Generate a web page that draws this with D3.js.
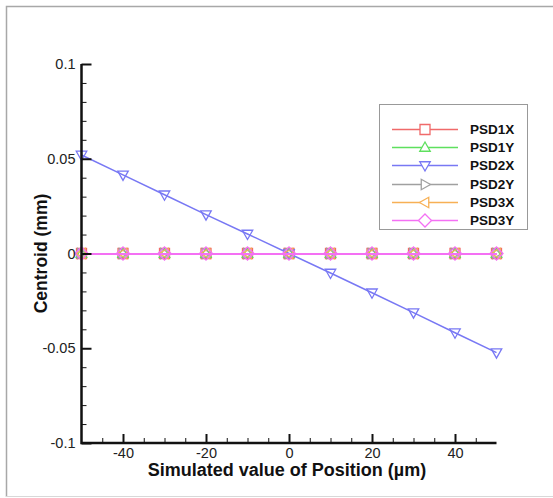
<!DOCTYPE html>
<html>
<head>
<meta charset="utf-8">
<script src="https://cdn.jsdelivr.net/npm/d3@7"></script>
<style>
  html, body { margin: 0; padding: 0; background: #fff; }
  svg { display: block; font-family: "Liberation Sans", Arial, sans-serif; }
</style>
</head>
<body>
<svg id="chart" width="553" height="498"></svg>
<script>
// Simulated position (µm) and measured centroids (mm) for each PSD channel
const positions = [-50, -40, -30, -20, -10, 0, 10, 20, 30, 40, 50];
const psd1x = [0, 0, 0, 0, 0, 0, 0, 0, 0, 0, 0];
const psd1y = [0, 0, 0, 0, 0, 0, 0, 0, 0, 0, 0];
const psd2x = [0.0520, 0.0415, 0.0310, 0.0205, 0.0103, 0, -0.0103, -0.0207, -0.0312, -0.0418, -0.0523];
const psd2y = [0, 0, 0, 0, 0, 0, 0, 0, 0, 0, 0];
const psd3x = [0, 0, 0, 0, 0, 0, 0, 0, 0, 0, 0];
const psd3y = [0, 0, 0, 0, 0, 0, 0, 0, 0, 0, 0];

const seriesNames = ["PSD1X", "PSD1Y", "PSD2X", "PSD2Y", "PSD3X", "PSD3Y"];
const seriesValues = [psd1x, psd1y, psd2x, psd2y, psd3x, psd3y];
const seriesColors = ["#f06a6a", "#5ee05e", "#7878f4", "#a0a0a0", "#f7b055", "#f470f4"];
const seriesMarkers = ["square", "triUp", "triDown", "triRight", "triLeft", "diamond"];

const xMajorTicks = [-40, -20, 0, 20, 40];
const xMinorTicks = [-45, -35, -30, -25, -15, -10, -5, 5, 10, 15, 25, 30, 35, 45];
const yMajorTicks = [0.1, 0.05, 0, -0.05, -0.1];
const yMinorTicks = [0.09, 0.08, 0.07, 0.06, 0.04, 0.03, 0.02, 0.01,
  -0.01, -0.02, -0.03, -0.04, -0.06, -0.07, -0.08, -0.09];

const svg = d3.select("#chart");

// outer frame
svg.append("path")
  .attr("d", "M6.5,497 V6.5 H553")
  .attr("fill", "none").attr("stroke", "#a8a8a8").attr("stroke-width", 1.5);
svg.append("line")
  .attr("x1", 6).attr("x2", 553).attr("y1", 496.5).attr("y2", 496.5)
  .attr("stroke", "#d8d8d8").attr("stroke-width", 1);

const x = d3.scaleLinear().domain([-50, 50]).range([81.5, 496.5]);
const y = d3.scaleLinear().domain([-0.1, 0.1]).range([443, 64]);

// symbol path for a marker, centered at 0,0
function markerPath(kind, r) {
  switch (kind) {
    case "square": return `M${-r},${-r}H${r}V${r}H${-r}Z`;
    case "triUp": return `M0,${-r * 1.1}L${r * 1.05},${r * 0.75}L${-r * 1.05},${r * 0.75}Z`;
    case "triDown": return `M0,${r * 1.1}L${r * 1.05},${-r * 0.75}L${-r * 1.05},${-r * 0.75}Z`;
    case "triRight": return `M${r * 1.1},0L${-r * 0.75},${r * 1.05}L${-r * 0.75},${-r * 1.05}Z`;
    case "triLeft": return `M${-r * 1.1},0L${r * 0.75},${r * 1.05}L${r * 0.75},${-r * 1.05}Z`;
    case "diamond": return `M0,${-r * 1.3}L${r * 1.3},0L0,${r * 1.3}L${-r * 1.3},0Z`;
  }
}

const line = d3.line().x(d => x(d[0])).y(d => y(d[1]));

// series lines and markers; flat lines are drawn crisp so the last one fully covers the others
const plot = svg.append("g");
seriesValues.forEach((vals, i) => {
  const pts = positions.map((p, j) => [p, vals[j]]);
  const flat = vals.every(v => v === vals[0]);
  const g = plot.append("g");
  g.append("path").datum(pts)
    .attr("d", line).attr("fill", "none")
    .attr("stroke", seriesColors[i])
    .attr("stroke-width", flat ? 2 : 1.5)
    .attr("shape-rendering", flat ? "crispEdges" : null);
  g.selectAll("path.m").data(pts).join("path")
    .attr("class", "m")
    .attr("transform", d => `translate(${x(d[0])},${y(d[1])})`)
    .attr("d", markerPath(seriesMarkers[i], 5))
    .attr("fill", "none")
    .attr("stroke", seriesColors[i]).attr("stroke-width", 1.3);
});

// axes
const axisColor = "#111";
const tickFont = 14.5;
const fontFamily = "'Liberation Sans', Arial, sans-serif";

const yAxis = d3.axisRight(y)
  .tickValues(yMajorTicks)
  .tickSize(10)
  .tickFormat(d => d === 0 ? "0" : String(d));
const yMinor = d3.axisRight(y).tickValues(yMinorTicks).tickSize(5).tickFormat("");

svg.append("g").attr("transform", `translate(${x(-50)},0)`).call(yMinor)
  .call(g => g.select(".domain").remove())
  .call(g => g.selectAll("line").attr("stroke", axisColor).attr("stroke-width", 1));
const yAxisG = svg.append("g").attr("transform", `translate(${x(-50)},0)`).call(yAxis);
yAxisG.select(".domain").remove();
yAxisG.selectAll("line").attr("stroke", axisColor).attr("stroke-width", 2);
yAxisG.selectAll("text")
  .attr("x", -6).attr("text-anchor", "end")
  .attr("fill", "#222").style("font-size", tickFont + "px")
  .style("font-family", fontFamily);

const xAxis = d3.axisTop(x).tickValues(xMajorTicks).tickSize(9).tickFormat(d => String(d));
const xMinor = d3.axisTop(x).tickValues(xMinorTicks).tickSize(5).tickFormat("");
svg.append("g").attr("transform", `translate(0,${y(-0.1)})`).call(xMinor)
  .call(g => g.select(".domain").remove())
  .call(g => g.selectAll("line").attr("stroke", axisColor).attr("stroke-width", 1));
const xAxisG = svg.append("g").attr("transform", `translate(0,${y(-0.1)})`).call(xAxis);
xAxisG.select(".domain").remove();
xAxisG.selectAll("line").attr("stroke", axisColor).attr("stroke-width", 2);
xAxisG.selectAll("text")
  .attr("y", 14.5).attr("dy", "0")
  .attr("fill", "#222").style("font-size", tickFont + "px")
  .style("font-family", fontFamily);

// axis lines
svg.append("path")
  .attr("d", `M${x(-50)},${y(0.1)}V${y(-0.1)}H${x(50)}`)
  .attr("fill", "none").attr("stroke", axisColor).attr("stroke-width", 2.5);

// axis titles
svg.append("text")
  .attr("x", (x(-50) + x(50)) / 2 - 2).attr("y", 476)
  .attr("text-anchor", "middle")
  .attr("font-weight", "bold").attr("font-size", 18).attr("fill", "#111")
  .text("Simulated value of Position (µm)");
svg.append("text")
  .attr("transform", `translate(47,${y(0)}) rotate(-90)`)
  .attr("text-anchor", "middle")
  .attr("font-weight", "bold").attr("font-size", 17.5).attr("fill", "#111")
  .text("Centroid (mm)");

// legend
const legend = svg.append("g");
legend.append("rect")
  .attr("x", 379.5).attr("y", 104.5).attr("width", 148).attr("height", 125)
  .attr("fill", "#fff").attr("stroke", "#999").attr("stroke-width", 1);
seriesNames.forEach((name, i) => {
  const ly = Math.round(129 + i * 18.2) + 0.5;
  const g = legend.append("g");
  g.append("line").attr("x1", 392).attr("x2", 458).attr("y1", ly).attr("y2", ly)
    .attr("stroke", seriesColors[i]).attr("stroke-width", 1.5);
  g.append("path")
    .attr("transform", `translate(425,${ly})`)
    .attr("d", markerPath(seriesMarkers[i], 5))
    .attr("fill", "#fff").attr("stroke", seriesColors[i]).attr("stroke-width", 1.3);
  g.append("text").attr("x", 470).attr("y", ly).attr("dy", "0.36em")
    .attr("font-weight", "bold").attr("font-size", 13.5).attr("fill", "#111")
    .text(name);
});
</script>
</body>
</html>
